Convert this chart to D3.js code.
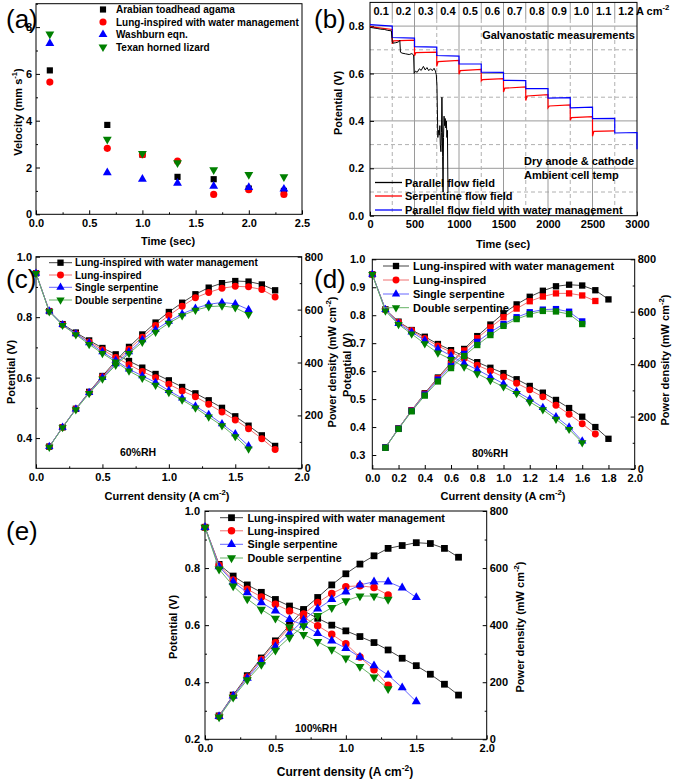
<!DOCTYPE html>
<html>
<head>
<meta charset="utf-8">
<script src="https://cdn.jsdelivr.net/npm/d3@7/dist/d3.min.js"></script>
<style>
html,body{margin:0;padding:0;background:#fff;}
svg{display:block;}
</style>
</head>
<body>
<svg id="fig" width="673" height="781"></svg>
<script>
// ================= DATA =================
// Panel (a)
const aTime = [0.13, 0.67, 1.0, 1.33, 1.67, 2.0, 2.33];
const aAgama = [6.15, 3.82, 2.55, 1.6, 1.5, 1.1, 1.0];
const aLung = [5.65, 2.82, 2.55, 2.27, 0.85, 1.05, 0.85];
const aWashburn = [7.3, 1.78, 1.5, 1.33, 1.2, 1.15, 1.08];
const aTexan = [7.7, 3.2, 2.6, 2.2, 1.9, 1.7, 1.6];
const aNames = ["Arabian toadhead agama", "Lung-inspired with water management", "Washburn eqn.", "Texan horned lizard"];
const aXTicks = [0, 0.5, 1.0, 1.5, 2.0, 2.5];
const aXMinor = [0.25, 0.75, 1.25, 1.75, 2.25];
const aYTicks = [0, 2, 4, 6, 8];
const aYMinor = [1, 3, 5, 7, 9];

// Panel (b)
const bCurrentLabels = ["0.1", "0.2", "0.3", "0.4", "0.5", "0.6", "0.7", "0.8", "0.9", "1.0", "1.1", "1.2"];
const bStepStarts = [0, 250, 500, 750, 1000, 1250, 1500, 1750, 2000, 2250, 2500, 2750];
const bBlueStart = [0.806, 0.752, 0.713, 0.676, 0.641, 0.606, 0.571, 0.536, 0.496, 0.455, 0.410, 0.349];
const bBlueEnd   = [0.800, 0.749, 0.711, 0.673, 0.640, 0.605, 0.570, 0.536, 0.498, 0.458, 0.411, 0.351];
const bBlueFinal = 0.28;
const bRedDip   = [0.800, 0.725, 0.675, 0.630, 0.597, 0.568, 0.522, 0.486, 0.455, 0.403, 0.335];
const bRedStart = [0.797, 0.738, 0.688, 0.650, 0.612, 0.574, 0.538, 0.505, 0.463, 0.414, 0.356];
const bRedEnd   = [0.786, 0.741, 0.690, 0.655, 0.617, 0.578, 0.543, 0.511, 0.468, 0.418, 0.358];
const bBlackT = [0, 40, 80, 120, 160, 200, 240, 250, 258, 290, 320, 335, 342, 360, 400, 440, 470, 490, 496, 510, 530, 555, 575, 600, 620, 640, 660, 680, 700, 720, 735, 745, 752, 757, 762, 770, 778, 785, 790, 797, 803, 808, 812, 816, 821, 826, 832, 838, 845, 852, 858, 864, 870, 876];
const bBlackV = [0.795, 0.792, 0.790, 0.787, 0.786, 0.782, 0.780, 0.735, 0.728, 0.730, 0.733, 0.740, 0.690, 0.686, 0.683, 0.680, 0.684, 0.678, 0.600, 0.610, 0.605, 0.620, 0.613, 0.630, 0.615, 0.625, 0.612, 0.620, 0.612, 0.622, 0.610, 0.595, 0.550, 0.450, 0.330, 0.360, 0.340, 0.380, 0.300, 0.270, 0.350, 0.500, 0.400, 0.250, 0.100, 0.330, 0.420, 0.380, 0.410, 0.370, 0.400, 0.330, 0.360, 0.100];
const bNames = ["Parallel flow field", "Serpentine flow field", "Parallel flow field with water management"];
const bXTicks = [0, 500, 1000, 1500, 2000, 2500, 3000];
const bYTicks = [0, 0.2, 0.4, 0.6, 0.8];
const bGridSolidY = [0.2, 0.4, 0.6, 0.8];
const bGridDashY = [0.1, 0.3, 0.5, 0.7];
const bGridSolidX = [500, 1000, 1500, 2000, 2500];
const bGridDashX = [250, 750, 1250, 1750, 2250, 2750];

// Panels (c)(d)(e): current density (A cm-2)
const iAxis = [0, 0.1, 0.2, 0.3, 0.4, 0.5, 0.6, 0.7, 0.8, 0.9, 1.0, 1.1, 1.2, 1.3, 1.4, 1.5, 1.6, 1.7, 1.8];
const fcNames = ["Lung-inspired with water management", "Lung-inspired", "Single serpentine", "Double serpentine"];

// (c) 60%RH  — potential from i=0, power from i=0.1
const cBlackV = [0.945, 0.820, 0.777, 0.749, 0.723, 0.698, 0.677, 0.655, 0.633, 0.612, 0.591, 0.569, 0.548, 0.525, 0.500, 0.472, 0.441, 0.409, 0.374];
const cBlackP = [82, 155, 225, 289, 349, 406, 459, 506, 551, 591, 626, 658, 683, 700, 708, 706, 695, 673];
const cRedV = [0.945, 0.820, 0.775, 0.745, 0.718, 0.692, 0.667, 0.643, 0.620, 0.600, 0.578, 0.556, 0.537, 0.512, 0.486, 0.460, 0.431, 0.398, 0.362];
const cRedP = [82, 155, 224, 287, 346, 400, 450, 496, 540, 578, 613, 645, 665, 681, 688, 686, 676, 648];
const cBlueV = [0.945, 0.820, 0.775, 0.745, 0.715, 0.685, 0.657, 0.628, 0.606, 0.584, 0.557, 0.532, 0.506, 0.478, 0.447, 0.414, 0.374];
const cBlueP = [82, 155, 224, 286, 343, 395, 440, 486, 524, 556, 584, 605, 620, 627, 622, 600];
const cGreenV = [0.945, 0.818, 0.773, 0.742, 0.710, 0.680, 0.652, 0.622, 0.598, 0.575, 0.551, 0.526, 0.500, 0.470, 0.441, 0.405, 0.364];
const cGreenP = [80, 154, 222, 283, 338, 390, 434, 477, 515, 549, 577, 598, 611, 614, 607, 582];

// (d) 80%RH
const dBlackV = [0.946, 0.821, 0.777, 0.747, 0.723, 0.697, 0.675, 0.654, 0.632, 0.612, 0.593, 0.571, 0.547, 0.523, 0.497, 0.468, 0.437, 0.400, 0.358];
const dBlackP = [82, 155, 224, 289, 349, 405, 458, 507, 551, 594, 628, 657, 680, 697, 703, 700, 682, 647];
const dRedV = [0.946, 0.820, 0.775, 0.745, 0.717, 0.690, 0.668, 0.645, 0.621, 0.601, 0.579, 0.557, 0.533, 0.508, 0.478, 0.446, 0.412, 0.375];
const dRedP = [82, 155, 224, 287, 346, 401, 452, 499, 540, 579, 612, 640, 658, 670, 670, 662, 641];
const dBlueV = [0.946, 0.820, 0.770, 0.740, 0.710, 0.680, 0.655, 0.628, 0.605, 0.580, 0.555, 0.527, 0.500, 0.470, 0.437, 0.400, 0.350];
const dBlueP = [82, 154, 222, 284, 341, 393, 439, 485, 522, 553, 579, 598, 608, 610, 600, 563];
const dGreenV = [0.946, 0.815, 0.767, 0.733, 0.698, 0.665, 0.642, 0.615, 0.591, 0.567, 0.544, 0.520, 0.490, 0.462, 0.428, 0.392, 0.344];
const dGreenP = [81, 153, 220, 280, 334, 385, 431, 473, 511, 546, 572, 590, 603, 601, 591, 553];

// (e) 100%RH
const eBlackV = [0.943, 0.813, 0.772, 0.741, 0.715, 0.690, 0.667, 0.650, 0.624, 0.600, 0.580, 0.560, 0.539, 0.513, 0.484, 0.458, 0.428, 0.393, 0.355];
const eBlackP = [82, 155, 223, 285, 345, 400, 455, 497, 541, 580, 614, 643, 669, 679, 689, 686, 669, 638];
const eRedV = [0.943, 0.810, 0.758, 0.726, 0.699, 0.673, 0.650, 0.628, 0.598, 0.568, 0.535, 0.488, 0.444, 0.389];
const eRedP = [81, 152, 218, 280, 338, 392, 439, 479, 511, 535, 538, 532, 506];
const eBlueV = [0.943, 0.805, 0.752, 0.714, 0.679, 0.650, 0.620, 0.600, 0.571, 0.545, 0.519, 0.488, 0.458, 0.425, 0.381, 0.332];
const eBlueP = [80, 152, 214, 272, 325, 371, 418, 457, 490, 517, 541, 552, 552, 531, 497];
const eGreenV = [0.943, 0.796, 0.737, 0.692, 0.655, 0.624, 0.594, 0.567, 0.542, 0.515, 0.484, 0.455, 0.418, 0.377];
const eGreenP = [78, 147, 208, 262, 312, 357, 397, 433, 461, 485, 502, 502, 490];

// ================= DRAWING =================
const FONT = "'Liberation Sans', Arial, Helvetica, sans-serif";
const svg = d3.select("#fig");
svg.append("rect").attr("width", 673).attr("height", 781).attr("fill", "#fff");

const COL = {black: "#000000", red: "#ff0000", blue: "#0000ff", green: "#008000"};
const LCOL = {black: "#444444", red: "#f07070", blue: "#6666ff", green: "#66b366"};

function marker(g, shape, x, y, color, size) {
  const t = shape === "circle" ? d3.symbolCircle : shape === "square" ? d3.symbolSquare : d3.symbolTriangle;
  g.append("path").attr("d", d3.symbol().type(t).size(size)())
    .attr("fill", color)
    .attr("transform", `translate(${x},${y})` + (shape === "down" ? " rotate(180)" : ""));
}

function txt(g, x, y, parts, fs, anchor, rot, weight) {
  const t = g.append("text").attr("x", x).attr("y", y)
    .attr("font-family", FONT).attr("font-size", fs).attr("font-weight", weight || "bold")
    .attr("text-anchor", anchor || "middle").attr("fill", "#000");
  if (rot) t.attr("transform", `rotate(-90,${x},${y})`);
  let up = false;
  (Array.isArray(parts) ? parts : [parts]).forEach(p => {
    const sup = Array.isArray(p);
    const ts = t.append("tspan").text(sup ? p[0] : p);
    if (sup) {
      ts.attr("font-size", 0.7 * fs);
      if (!up) { ts.attr("dy", -0.42 * fs); up = true; }
    } else if (up) { ts.attr("dy", 0.42 * fs); up = false; }
  });
  return t;
}

function styleAxis(sel, fs) {
  sel.attr("font-family", FONT).attr("font-size", fs).attr("font-weight", "bold");
  sel.select(".domain").remove();
  sel.selectAll(".tick line").attr("stroke", "#000");
  sel.selectAll(".tick text").attr("fill", "#000");
}

function drawAxes(g, x, y, o) {
  const [x0, x1] = x.range();
  const [y1, y0] = y.range();
  g.append("g").attr("transform", `translate(0,${y1})`)
    .call(d3.axisBottom(x).tickValues(o.xTicks).tickFormat(o.xFmt).tickSize(-4).tickPadding(o.xPad || 5))
    .call(styleAxis, o.fs);
  if (o.xMinor) g.append("g").attr("transform", `translate(0,${y1})`)
    .call(d3.axisBottom(x).tickValues(o.xMinor).tickFormat("").tickSize(-2)).call(styleAxis, o.fs);
  g.append("g").attr("transform", `translate(${x0},0)`)
    .call(d3.axisLeft(y).tickValues(o.yTicks).tickFormat(o.yFmt).tickSize(-4).tickPadding(o.yPad || 4))
    .call(styleAxis, o.fs);
  if (o.yMinor) g.append("g").attr("transform", `translate(${x0},0)`)
    .call(d3.axisLeft(y).tickValues(o.yMinor).tickFormat("").tickSize(-2)).call(styleAxis, o.fs);
  g.append("rect").attr("x", x0).attr("y", y0).attr("width", x1 - x0).attr("height", y1 - y0)
    .attr("fill", "none").attr("stroke", "#000").attr("stroke-width", 1);
}

// ---------- Panel (a) ----------
(function () {
  const g = svg.append("g");
  const x = d3.scaleLinear().domain([0, 2.5]).range([36, 302]);
  const y = d3.scaleLinear().domain([0, 9]).range([214.3, 3.7]);
  drawAxes(g, x, y, {xTicks: aXTicks, xMinor: aXMinor, xFmt: d3.format(".1f"), yTicks: aYTicks, yMinor: aYMinor, yFmt: d3.format("d"), fs: 11, yPad: 4});
  const series = [
    {v: aAgama, c: COL.black, s: "square", z: 38},
    {v: aLung, c: COL.red, s: "circle", z: 40},
    {v: aWashburn, c: COL.blue, s: "up", z: 34},
    {v: aTexan, c: COL.green, s: "down", z: 34}
  ];
  series.forEach(se => se.v.forEach((v, i) => marker(g, se.s, x(aTime[i]), y(v), se.c, se.z)));
  const rows = [9.5, 22, 34.5, 47];
  series.forEach((se, i) => {
    marker(g, se.s, 103, rows[i], se.c, se.z);
    txt(g, 116, rows[i] + 3.6, aNames[i], 10, "start");
  });
  txt(g, 22, 112, ["Velocity (mm s", ["-1"], ")"], 11, "middle", true);
  txt(g, 168, 245, "Time (sec)", 11, "middle");
  txt(g, 6, 28, "(a)", 26, "start", false, "normal");
})();

// ---------- Panel (b) ----------
(function () {
  const g = svg.append("g");
  const x = d3.scaleLinear().domain([0, 3000]).range([370, 637]);
  const y = d3.scaleLinear().domain([0, 0.9]).range([215.7, 2.4]);
  const gy0 = 2.4, gy1 = 215.7, stripBottom = 19;
  // grid
  bGridSolidY.forEach(v => g.append("line").attr("x1", 370).attr("x2", 637).attr("y1", y(v)).attr("y2", y(v)).attr("stroke", "#9a9a9a"));
  bGridDashY.forEach(v => g.append("line").attr("x1", 370).attr("x2", 637).attr("y1", y(v)).attr("y2", y(v)).attr("stroke", "#b0b0b0").attr("stroke-dasharray", "4,3"));
  bGridSolidX.forEach(v => g.append("line").attr("x1", x(v)).attr("x2", x(v)).attr("y1", gy0).attr("y2", gy1).attr("stroke", "#9a9a9a"));
  bGridDashX.forEach(v => {
    g.append("line").attr("x1", x(v)).attr("x2", x(v)).attr("y1", gy0).attr("y2", stripBottom).attr("stroke", "#9a9a9a");
    g.append("line").attr("x1", x(v)).attr("x2", x(v)).attr("y1", stripBottom).attr("y2", gy1).attr("stroke", "#b0b0b0").attr("stroke-dasharray", "4,3");
  });
  drawAxes(g, x, y, {xTicks: bXTicks, xMinor: null, xFmt: d3.format("d"), yTicks: bYTicks, yMinor: null, yFmt: d3.format(".1f"), fs: 11, yPad: 6});
  const line = d3.line().x(d => x(d[0])).y(d => y(d[1]));
  // red
  const red = [];
  bRedDip.forEach((dv, i) => {
    const t0 = bStepStarts[i];
    red.push([t0, dv], [t0 + 15, bRedStart[i]], [t0 + 250, bRedEnd[i]]);
  });
  g.append("path").attr("d", line(red)).attr("fill", "none").attr("stroke", COL.red).attr("stroke-width", 1.2);
  // blue
  const blue = [];
  bBlueStart.forEach((sv, i) => {
    const t0 = bStepStarts[i];
    blue.push([t0, sv], [t0 + 250, bBlueEnd[i]]);
  });
  blue.push([3000, bBlueFinal]);
  g.append("path").attr("d", line(blue)).attr("fill", "none").attr("stroke", COL.blue).attr("stroke-width", 1.2);
  // black
  const black = bBlackT.map((t, i) => [t, bBlackV[i]]);
  g.append("path").attr("d", line(black)).attr("fill", "none").attr("stroke", "#000").attr("stroke-width", 1);
  // top current labels
  bCurrentLabels.forEach((s, i) => txt(g, x(bStepStarts[i] + 125), 15, s, 11, "middle"));
  txt(g, 636, 15, ["A cm", ["-2"]], 11, "start");
  txt(g, 635, 39, "Galvanostatic measurements", 11, "end");
  txt(g, 524, 165, "Dry anode & cathode", 11, "start");
  txt(g, 524, 179, "Ambient cell temp", 11, "start");
  // legend
  const rows = [182.5, 196, 210];
  const cols = ["#000", COL.red, COL.blue];
  rows.forEach((ry, i) => {
    g.append("line").attr("x1", 375).attr("x2", 402).attr("y1", ry).attr("y2", ry).attr("stroke", cols[i]).attr("stroke-width", 1.3);
    txt(g, 405, ry + 4, bNames[i], 11, "start");
  });
  txt(g, 342, 103, "Potential (V)", 11, "middle", true);
  txt(g, 503, 248, "Time (sec)", 11, "middle");
  txt(g, 314, 28, "(b)", 26, "start", false, "normal");
})();

// ---------- Panels (c)(d)(e) ----------
function fcPanel(o) {
  const g = svg.append("g");
  const x = d3.scaleLinear().domain([0, 2]).range([o.x0, o.x1]);
  const yV = d3.scaleLinear().domain(o.vDom).range([o.y1, o.y0]);
  const yP = d3.scaleLinear().domain([0, 800]).range([o.y1, o.y0]);
  drawAxes(g, x, yV, {xTicks: o.xTicks, xMinor: o.xMinor, xFmt: d3.format(".1f"), yTicks: o.vTicks, yMinor: o.vMinor, yFmt: d3.format(".1f"), fs: 11, yPad: o.yPad});
  g.append("g").attr("transform", `translate(${o.x1},0)`)
    .call(d3.axisRight(yP).tickValues([0, 200, 400, 600, 800]).tickFormat(d3.format("d")).tickSize(-4).tickPadding(3))
    .call(styleAxis, 11);
  g.append("g").attr("transform", `translate(${o.x1},0)`)
    .call(d3.axisRight(yP).tickValues([100, 300, 500, 700]).tickFormat("").tickSize(-2))
    .call(styleAxis, 11);
  const line = d3.line().x(d => x(d[0])).y(d => d[2]);
  const keys = ["black", "red", "blue", "green"];
  const shapes = ["square", "circle", "up", "down"];
  const sizes = {square: o.sq, circle: o.ci, up: o.tr, down: o.tr};
  o.series.forEach((s, k) => {
    const vPts = s.V.map((v, i) => [iAxis[i], v, yV(v)]);
    const pPts = s.P.map((p, i) => [iAxis[i + 1], p, yP(p)]);
    [vPts, pPts].forEach(pts => g.append("path").attr("d", line(pts)).attr("fill", "none")
      .attr("stroke", LCOL[keys[k]]).attr("stroke-width", 1));
    vPts.forEach(d => marker(g, shapes[k], x(d[0]), d[2], COL[keys[k]], sizes[shapes[k]]));
    const pShape = o.powerSquares ? "square" : shapes[k];
    pPts.forEach(d => marker(g, pShape, x(d[0]), d[2], COL[keys[k]], sizes[pShape]));
  });
  // legend
  o.legRows.forEach((ry, k) => {
    g.append("line").attr("x1", o.legL0).attr("x2", o.legL1).attr("y1", ry).attr("y2", ry).attr("stroke", LCOL[keys[k]]).attr("stroke-width", 1);
    marker(g, shapes[k], (o.legL0 + o.legL1) / 2, ry, COL[keys[k]], sizes[shapes[k]]);
    txt(g, o.legT, ry + 0.36 * o.legFs, fcNames[k], o.legFs, "start");
  });
  txt(g, o.rh[0], o.rh[1], o.rhText, 10.5, "middle");
  txt(g, o.potX, o.potY, "Potential (V)", 11, "middle", true);
  txt(g, o.powX, o.powY, ["Power density (mW cm", ["-2"], ")"], 11, "middle", true);
  txt(g, o.curX, o.curY, ["Current density (A cm", ["-2"], ")"], o.curFs || 11, "middle");
  txt(g, o.letter[0], o.letter[1], o.letter[2], 26, "start", false, "normal");
}

fcPanel({
  x0: 36, x1: 301.7, y0: 256.7, y1: 468.3, vDom: [0.3, 1.0],
  xTicks: [0, 0.5, 1.0, 1.5, 2.0], xMinor: [0.25, 0.75, 1.25, 1.75],
  vTicks: [0.4, 0.6, 0.8, 1.0], vMinor: [0.5, 0.7, 0.9], yPad: 4,
  sq: 40, ci: 38, tr: 30, powerSquares: false,
  series: [{V: cBlackV, P: cBlackP}, {V: cRedV, P: cRedP}, {V: cBlueV, P: cBlueP}, {V: cGreenV, P: cGreenP}],
  legRows: [262.7, 275, 287.3, 300], legL0: 49, legL1: 72, legT: 75, legFs: 10,
  rh: [138, 456], rhText: "60%RH",
  potX: 15, potY: 372, powX: 336, powY: 362, curX: 167, curY: 500,
  letter: [6, 288, "(c)"]
});

fcPanel({
  x0: 372.3, x1: 634.7, y0: 259.3, y1: 469, vDom: [0.25, 1.0],
  xTicks: [0, 0.2, 0.4, 0.6, 0.8, 1.0, 1.2, 1.4, 1.6, 1.8, 2.0], xMinor: null,
  vTicks: [0.3, 0.4, 0.5, 0.6, 0.7, 0.8, 0.9, 1.0], vMinor: null, yPad: 7,
  sq: 40, ci: 38, tr: 30, powerSquares: true,
  series: [{V: dBlackV, P: dBlackP}, {V: dRedV, P: dRedP}, {V: dBlueV, P: dBlueP}, {V: dGreenV, P: dGreenP}],
  legRows: [266, 280, 294, 307.7], legL0: 383, legL1: 409, legT: 413, legFs: 11,
  rh: [490, 457], rhText: "80%RH",
  potX: 351, potY: 365, powX: 669, powY: 360, curX: 503, curY: 500,
  letter: [314, 288, "(d)"]
});

fcPanel({
  x0: 205, x1: 486.7, y0: 511, y1: 739.3, vDom: [0.2, 1.0],
  xTicks: [0, 0.5, 1.0, 1.5, 2.0], xMinor: [0.25, 0.75, 1.25, 1.75],
  vTicks: [0.2, 0.4, 0.6, 0.8, 1.0], vMinor: [0.3, 0.5, 0.7, 0.9], yPad: 5,
  sq: 46, ci: 44, tr: 36, powerSquares: false,
  series: [{V: eBlackV, P: eBlackP}, {V: eRedV, P: eRedP}, {V: eBlueV, P: eBlueP}, {V: eGreenV, P: eGreenP}],
  legRows: [517.7, 530.8, 544.3, 558], legL0: 220, legL1: 243, legT: 247.5, legFs: 10.8,
  rh: [316, 732], rhText: "100%RH",
  potX: 177, potY: 627, powX: 524, powY: 627, curX: 345, curY: 776, curFs: 12,
  letter: [6, 540, "(e)"]
});
</script>
</body>
</html>
